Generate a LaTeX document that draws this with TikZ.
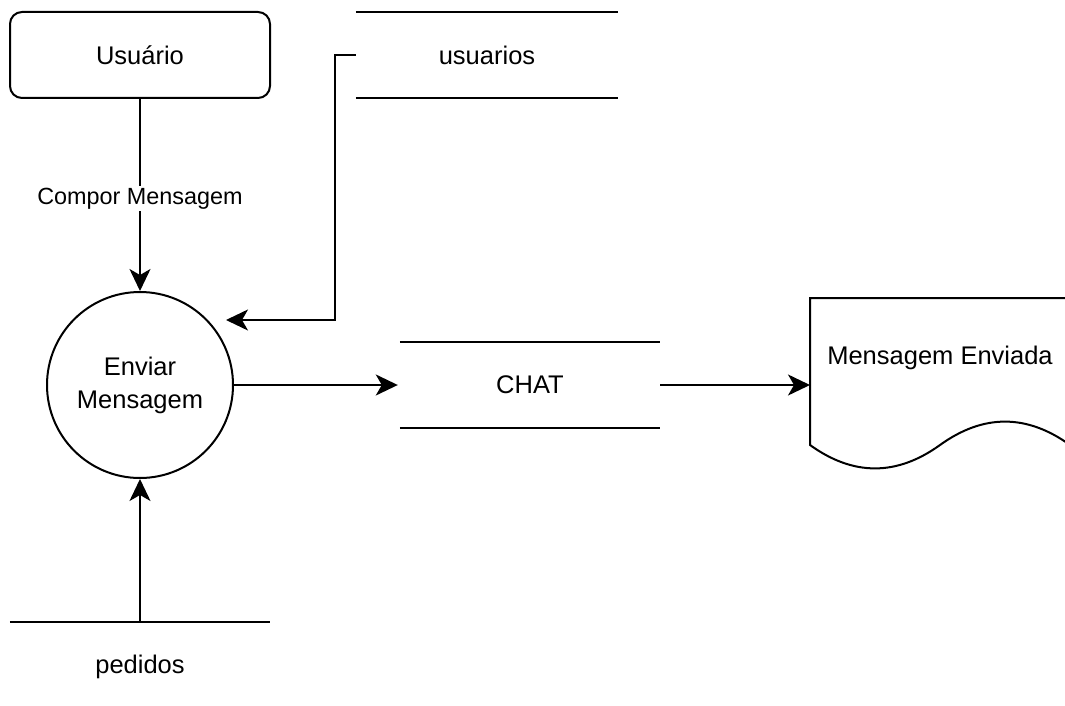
\documentclass[tikz,border=0pt]{standalone}
\usepackage{fontspec}
\setmainfont{Liberation Sans}
\usetikzlibrary{arrows.meta}
\begin{document}
\begin{tikzpicture}[x=1pt,y=-1pt,
  every node/.style={font=\fontsize{25.5}{31}\selectfont, inner sep=0pt},
  ln/.style={line width=2pt, draw=black},
  arr/.style={ln, -{Stealth[length=22pt,width=21pt,inset=6pt]}},
  lbl/.style={font=\fontsize{23.4}{28}\selectfont, fill=white, inner sep=2pt}]
\useasboundingbox (0,0) rectangle (1065,706);
\clip (0,0) rectangle (1065,706);
\fill[white] (0,0) rectangle (1065,706);

% entity
\node[ln, rounded corners=12pt, minimum width=260pt, minimum height=86pt] (usuario) at (140,55) {Usuário};

% data store usuarios
\node[minimum width=262pt, minimum height=86pt] (usuarios) at (487,55) {usuarios};
\draw[ln] (usuarios.north west) -- (usuarios.north east)
          (usuarios.south west) -- (usuarios.south east);

% process
\node[ln, circle, minimum size=186pt, align=center, font=\fontsize{25.5}{33}\selectfont] (enviar) at (140,385) {Enviar\\Mensagem};

% data store CHAT
\node[minimum width=260pt, minimum height=86pt] (chat) at (530,385) {CHAT};
\draw[ln] (chat.north west) -- (chat.north east)
          (chat.south west) -- (chat.south east);

% data store pedidos
\node[minimum width=260pt, minimum height=90pt] (pedidos) at (140,667) {pedidos};
\draw[ln] (pedidos.north west) -- (pedidos.north east);

% document
\draw[ln] (810,298) -- (1070,298) -- (1070,445)
  .. controls (1026.67,413.8) and (983.33,413.8) .. (940,445)
  .. controls (896.67,476.2) and (853.33,476.2) .. (810,445) -- cycle;
\node (doc) at (940,358) {Mensagem Enviada};
\coordinate (docin) at (810,385);

% connectors
\draw[arr] (usuario) -- (enviar) node[lbl, pos=0.52] {Compor Mensagem};
\coordinate (uin) at (226,320);
\draw[arr] (usuarios.west) -- ++(-21,0) |- (uin);
\draw[arr, shorten >=2pt] (enviar.east) -- (chat.west);
\draw[arr] (chat.east) -- (docin);
\draw[arr] (pedidos.north) -- (enviar.south);
\end{tikzpicture}
\end{document}
